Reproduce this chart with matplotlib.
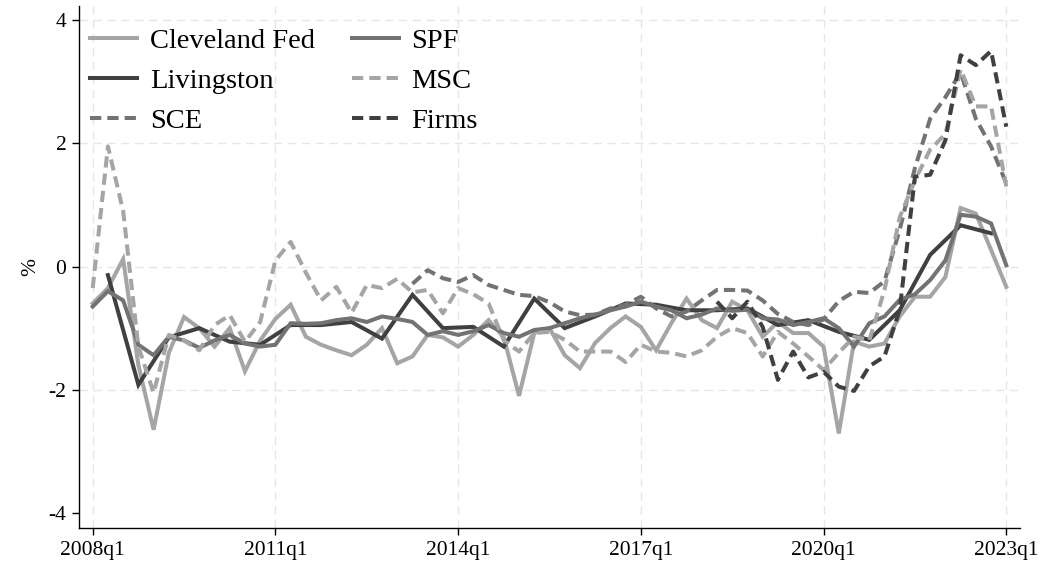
import matplotlib
matplotlib.use("Agg")
import matplotlib.pyplot as plt
import numpy as np

plt.rcParams['font.family'] = ['Liberation Serif', 'DejaVu Serif']
plt.rcParams['axes.unicode_minus'] = False

# quarters 2008q1 .. 2023q1
quarters = [f"{y}q{q}" for y in range(2008, 2024) for q in range(1, 5)][:61]
tick_labels = ["2008q1", "2011q1", "2014q1", "2017q1", "2020q1", "2023q1"]
N = None

cleveland = [-0.6, -0.35, 0.12, -1.6, -2.65, -1.4, -0.82, -1.0, -1.3, -1.0,
             -1.7, -1.2, -0.85, -0.62, -1.14, -1.27, -1.36, -1.44, -1.27, -1.0,
             -1.57, -1.46, -1.11, -1.15, -1.3, -1.11, -0.87, -1.15, -2.1, -1.08,
             -1.0, -1.44, -1.65, -1.24, -1.0, -0.81, -0.98, -1.36, -0.92, -0.52,
             -0.87, -1.0, -0.57, -0.71, -1.14, -0.9, -1.08, -1.08, -1.3, -2.71,
             -1.22, -1.3, -1.25, -0.81, -0.49, -0.49, -0.17, 0.95, 0.86, 0.27,
             -0.33]

spf = [-0.65, -0.4, -0.55, -1.27, -1.44, -1.14, -1.2, -1.32, -1.2, -1.11,
       -1.25, -1.3, -1.27, -0.92, -0.93, -0.92, -0.87, -0.84, -0.9, -0.81,
       -0.85, -0.9, -1.11, -1.05, -1.11, -1.05, -0.95, -1.08, -1.14, -1.03,
       -1.0, -0.92, -0.84, -0.78, -0.71, -0.65, -0.57, -0.65, -0.71, -0.84,
       -0.78, -0.68, -0.72, -0.7, -0.84, -0.86, -0.95, -0.9, -0.84, -1.0,
       -1.3, -0.92, -0.81, -0.54, -0.45, -0.22, 0.1, 0.84, 0.81, 0.7,
       0.02]

livingston = [N, -0.14, N, -1.92, N, -1.15, N, -1.0, N, -1.22,
              N, -1.27, N, -0.95, N, -0.95, N, -0.9, N, -1.17,
              N, -0.46, N, -1.0, N, -0.98, N, -1.3, N, -0.52,
              N, -1.0, N, -0.81, N, -0.6, N, -0.62, N, -0.71,
              N, -0.71, N, -0.68, N, -0.95, N, -0.87, N, -1.06,
              N, -1.19, N, -0.71, N, 0.19, N, 0.67, N, 0.54,
              N]

msc = [-0.35, 1.95, 0.9, -1.3, -2.05, -1.11, -1.2, -1.36, -0.95, -0.79,
       -1.22, -0.9, 0.1, 0.4, -0.1, -0.55, -0.33, -0.75, -0.3, -0.35,
       -0.2, -0.42, -0.38, -0.76, -0.35, -0.45, -0.6, -1.2, -1.38, -1.08,
       -1.06, -1.19, -1.38, -1.38, -1.38, -1.55, -1.27, -1.38, -1.4, -1.46,
       -1.36, -1.14, -1.0, -1.08, -1.46, -1.06, -1.25, -1.46, -1.68, -1.4,
       -1.14, -1.2, -0.38, 0.8, 1.4, 1.9, 2.15, 3.2, 2.6, 2.6,
       1.3]

sce = [N] * 21 + [
       -0.28, -0.06, -0.19, -0.25, -0.14, -0.3, -0.38, -0.46, -0.48,
       -0.58, -0.73, -0.79, -0.78, -0.68, -0.62, -0.49, -0.68, -0.81, -0.73,
       -0.55, -0.38, -0.38, -0.39, -0.55, -0.77, -0.9, -0.95, -0.86, -0.56,
       -0.41, -0.43, -0.24, 0.6, 1.6, 2.4, 2.75, 3.15, 2.4, 1.95,
       1.35]

firms = [N] * 41 + [
         -0.57, -0.84, -0.57, -0.98, -1.84, -1.38, -1.8, -1.71, -1.95,
         -2.02, -1.62, -1.46, -0.7, 1.46, 1.49, 2.05, 3.43, 3.27, 3.5,
         2.27]

series = [
    ("Cleveland Fed", cleveland, "#a5a5a5", "-"),
    ("Livingston", livingston, "#404040", "-"),
    ("SCE", sce, "#737373", "--"),
    ("SPF", spf, "#737373", "-"),
    ("MSC", msc, "#a5a5a5", "--"),
    ("Firms", firms, "#404040", "--"),
]

fig = plt.figure(figsize=(10.4, 5.67), dpi=100)
ax = fig.add_axes([79/1040, 1 - 528/567, (1020-79)/1040, (528-6)/567])

x_all = np.arange(len(quarters))
lw = 2.9
for label, vals, color, ls in series:
    v = np.array([np.nan if a is None else a for a in vals], dtype=float)
    m = ~np.isnan(v)
    kw = dict(color=color, lw=lw, label=label, solid_joinstyle='miter')
    if ls == "--":
        kw['dashes'] = (2.8, 1.5)
        kw['dash_capstyle'] = 'butt'
    ax.plot(x_all[m], v[m], **kw)

ticks = [quarters.index(t) for t in tick_labels]
ax.set_xticks(ticks)
ax.set_xticklabels(tick_labels)
ax.set_yticks([-4, -2, 0, 2, 4])
ax.set_yticklabels(["-4", "-2", "0", "2", "4"])
ax.set_xlim(-0.9, 60.9)
ax.set_ylim(-4.245, 4.23)

for t in ticks:
    ax.axvline(t, color="#e6e6e6", lw=1.0, dashes=(6, 4), zorder=0)
for yv in [-2, 0, 2, 4]:
    ax.axhline(yv, color="#e6e6e6", lw=1.0, dashes=(6, 4), zorder=0)

for s in ["top", "right"]:
    ax.spines[s].set_visible(False)
ax.spines["left"].set_linewidth(1.0)
ax.spines["bottom"].set_linewidth(1.0)
ax.tick_params(axis="both", labelsize=15.5, length=5, width=1.0, direction="out", colors="black", pad=4)
ax.set_ylabel("%", fontsize=15.5, labelpad=6)

handles, labels = ax.get_legend_handles_labels()
leg = ax.legend(handles, labels, ncol=2, loc="upper left", bbox_to_anchor=(0.0117, 0.958),
                frameon=False, fontsize=20.5, handlelength=1.65, handletextpad=0.45,
                columnspacing=1.3, labelspacing=0.5, borderpad=0, borderaxespad=0)

fig.savefig("out.png", dpi=100)
